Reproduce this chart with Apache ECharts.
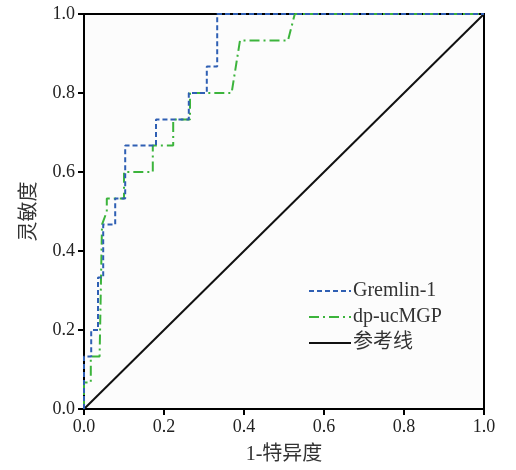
<!DOCTYPE html>
<html>
<head>
<meta charset="utf-8">
<script src="https://cdn.jsdelivr.net/npm/echarts@6/dist/echarts.min.js"></script>
<style>html,body{margin:0;padding:0;background:#fff}#c{width:516px;height:470px}</style>
</head>
<body>
<div id="c"></div>
<script>
const seriesNames = ['Gremlin-1', 'dp-ucMGP', '参考线'];
const gremlinX = [0, 0, 0.018, 0.018, 0.035, 0.035, 0.048, 0.048, 0.078, 0.078, 0.103, 0.103, 0.18, 0.18, 0.262, 0.262, 0.307, 0.307, 0.333, 0.333, 1];
const gremlinY = [0, 0.133, 0.133, 0.2, 0.2, 0.333, 0.333, 0.467, 0.467, 0.533, 0.533, 0.667, 0.667, 0.733, 0.733, 0.8, 0.8, 0.867, 0.867, 1, 1];
const mgpX = [0, 0, 0.017, 0.017, 0.039, 0.045, 0.057, 0.057, 0.1, 0.1, 0.172, 0.172, 0.223, 0.223, 0.265, 0.265, 0.369, 0.39, 0.51, 0.527, 1];
const mgpY = [0, 0.067, 0.067, 0.133, 0.133, 0.467, 0.5, 0.533, 0.533, 0.6, 0.6, 0.667, 0.667, 0.733, 0.733, 0.8, 0.8, 0.933, 0.933, 1, 1];
const refX = [0, 1];
const refY = [0, 1];
const tickLabels = ['0.0', '0.2', '0.4', '0.6', '0.8', '1.0'];

const zip = (xs, ys) => xs.map((x, i) => [x, ys[i]]);
const font = '"Liberation Serif", "Noto Sans CJK SC", serif';

const chart = echarts.init(document.getElementById('c'), null, {renderer: 'canvas'});
chart.setOption({
  animation: false,
  backgroundColor: '#ffffff',
  grid: {left: 84, right: 32, top: 14, bottom: 59, show: true, borderColor: '#000', borderWidth: 2, backgroundColor: '#fcfcfc'},
  xAxis: {
    type: 'value', min: 0, max: 1, interval: 0.2,
    name: '1-特异度', nameLocation: 'middle', nameGap: 36,
    nameTextStyle: {fontFamily: font, fontSize: 20, color: '#333'},
    axisLine: {show: true, lineStyle: {color: '#000', width: 2}},
    axisTick: {show: true, inside: false, length: 6, lineStyle: {color: '#000', width: 2}},
    axisLabel: {fontFamily: font, fontSize: 18, color: '#222', margin: 9, formatter: v => tickLabels[Math.round(v * 5)]},
    splitLine: {show: false}
  },
  yAxis: {
    type: 'value', min: 0, max: 1, interval: 0.2,
    name: '灵敏度', nameLocation: 'middle', nameGap: 44, nameRotate: 90,
    nameTextStyle: {fontFamily: font, fontSize: 20, color: '#333'},
    axisLine: {show: true, lineStyle: {color: '#000', width: 2}},
    axisTick: {show: true, inside: false, length: 6, lineStyle: {color: '#000', width: 2}},
    axisLabel: {fontFamily: font, fontSize: 18, color: '#222', margin: 9, formatter: v => tickLabels[Math.round(v * 5)]},
    splitLine: {show: false}
  },
  legend: {
    orient: 'vertical', left: 303, top: 276, itemWidth: 42, itemHeight: 12, itemGap: 6,
    itemStyle: {opacity: 0},
    textStyle: {fontFamily: font, fontSize: 20, color: '#333', padding: [0, 0, 0, -3]},
    data: seriesNames
  },
  series: [
    {name: seriesNames[2], type: 'line', data: zip(refX, refY), symbol: 'none', z: 1,
     lineStyle: {color: '#111', width: 2}, itemStyle: {color: '#111'}},
    {name: seriesNames[1], type: 'line', data: zip(mgpX, mgpY), symbol: 'none', z: 2,
     lineStyle: {color: '#3cb43c', width: 2, type: [10, 4, 2, 4]}, itemStyle: {color: '#3cb43c'}},
    {name: seriesNames[0], type: 'line', data: zip(gremlinX, gremlinY), symbol: 'none', z: 3,
     lineStyle: {color: '#2f5fb3', width: 2, type: [5, 3]}, itemStyle: {color: '#2f5fb3'}}
  ]
});
</script>
</body>
</html>
